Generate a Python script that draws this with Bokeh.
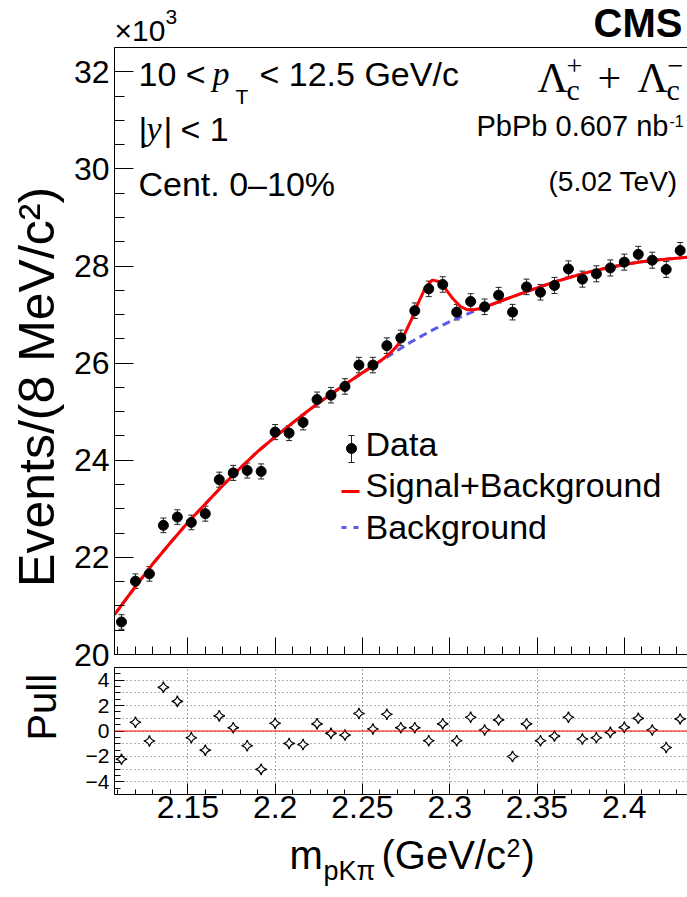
from math import pi
from bokeh.plotting import figure
from bokeh.models import (ColumnDataSource, Whisker, TeeHead, Span, Label,
                          SingleIntervalTicker, FixedTicker, Range1d, LinearAxis,
                          CustomLabelingPolicy)
from bokeh.layouts import column, row
from bokeh.embed import file_html
from bokeh.resources import INLINE

SANS = "Liberation Sans"
SERIF = "Liberation Serif"

# ---------------- data (events in units of 10^3) ----------------
mass = [2.112, 2.120, 2.128, 2.136, 2.144, 2.152, 2.160, 2.168, 2.176, 2.184,
        2.192, 2.200, 2.208, 2.216, 2.224, 2.232, 2.240, 2.248, 2.256, 2.264,
        2.272, 2.280, 2.288, 2.296, 2.304, 2.312, 2.320, 2.328, 2.336, 2.344,
        2.352, 2.360, 2.368, 2.376, 2.384, 2.392, 2.400, 2.408, 2.416, 2.424,
        2.432]
counts = [20.67, 21.51, 21.66, 22.66, 22.83, 22.72, 22.90, 23.60, 23.74, 23.79,
          23.77, 24.58, 24.56, 24.78, 25.25, 25.34, 25.52, 25.96, 25.96, 26.36,
          26.52, 27.08, 27.53, 27.62, 27.05, 27.27, 27.16, 27.40, 27.05, 27.57,
          27.46, 27.60, 27.94, 27.73, 27.84, 27.96, 28.08, 28.24, 28.12, 27.93,
          28.32]
errors = [0.15, 0.15, 0.15, 0.15, 0.15, 0.15, 0.155, 0.155, 0.155, 0.155,
          0.155, 0.155, 0.155, 0.155, 0.155, 0.16, 0.16, 0.16, 0.16, 0.16,
          0.16, 0.16, 0.16, 0.16, 0.16, 0.16, 0.16, 0.16, 0.16, 0.16,
          0.16, 0.165, 0.165, 0.165, 0.165, 0.165, 0.165, 0.165, 0.165, 0.165,
          0.165]
pulls = [-2.22, 0.69, -0.79, 3.44, 2.33, -0.53, -1.51, 1.19, 0.26, -1.16,
         -3.02, 0.61, -0.98, -1.06, 0.56, -0.19, -0.32, 1.38, 0.16, 1.32,
         0.26, 0.26, -0.77, 0.56, -0.77, 1.08, 0.08, 0.87, -2.01, 0.56,
         -0.77, -0.40, 1.08, -0.63, -0.53, -0.11, 0.29, 1.00, 0.08, -1.30,
         0.95]

fit_x = [2.108, 2.12, 2.13, 2.14, 2.15, 2.16, 2.17, 2.18, 2.19, 2.20,
         2.21, 2.22, 2.23, 2.24, 2.25,
         2.258, 2.262, 2.266, 2.270, 2.274, 2.278, 2.282, 2.286, 2.290, 2.294,
         2.298, 2.302, 2.306, 2.310, 2.314, 2.318, 2.322,
         2.33, 2.34, 2.35, 2.36, 2.37, 2.38, 2.39, 2.40, 2.41, 2.42, 2.43, 2.4365]
fit_bkg = [20.82, 21.40, 21.87, 22.30, 22.72, 23.10, 23.48, 23.84, 24.18, 24.48,
           24.77, 25.05, 25.31, 25.56, 25.80,
           25.99, 26.08, 26.17, 26.26, 26.35, 26.44, 26.52, 26.60, 26.68, 26.75,
           26.82, 26.89, 26.95, 27.01, 27.07, 27.12, 27.18,
           27.29, 27.42, 27.55, 27.67, 27.78, 27.88, 27.96, 28.03, 28.09, 28.13, 28.16, 28.18]
fit_total = [20.82, 21.40, 21.87, 22.30, 22.72, 23.10, 23.48, 23.84, 24.18, 24.48,
             24.77, 25.05, 25.31, 25.56, 25.80,
             25.99, 26.09, 26.21, 26.36, 26.59, 26.89, 27.24, 27.55, 27.71, 27.68,
             27.51, 27.32, 27.17, 27.10, 27.10, 27.13, 27.18,
             27.29, 27.42, 27.55, 27.67, 27.78, 27.88, 27.96, 28.03, 28.09, 28.13, 28.16, 28.18]

pull_labels = {-4: "\u22124", -2: "\u22122", 0: "0", 2: "2", 4: "4"}

# ---------------- layout (global pixel geometry) ----------------
X0, X1 = 2.108, 2.4362
Y0, Y1 = 20.0, 32.5
P0, P1 = -5.0, 5.0
W, H = 687, 897
LW = 64                 # width of the column holding the rotated titles
FL, FR = 114, 687       # frame left/right
TT, TB = 47, 654        # top panel frame top/bottom
BT, BB = 667, 794       # pull panel frame top/bottom
TOP_H = BT - TT         # 620
FOOT_T = 832
BOT_H = FOOT_T - BT     # 165
FOOT_H = H - FOOT_T     # 65
BASE_SHIFT = 0.4        # label anchor sits this many em above the drawn baseline


def tx(px):
    return X0 + (px - FL) * (X1 - X0) / (FR - FL)


def ty(py):
    return Y0 + (TB - py) * (Y1 - Y0) / (TB - TT)


def mk_label(x, y, text, size, font=SANS, style="normal", angle=0.0):
    return Label(x=x, y=y, text=text, text_font=font, text_font_size=f"{size}px",
                 text_font_style=style, text_color="black", text_align="left",
                 text_baseline="alphabetic", angle=angle)


def put(fig, conv, px, py, text, size, font=SANS, style="normal"):
    fig.add_layout(mk_label(tx(px), conv(py - BASE_SHIFT * size), text, size, font, style))


def textfig(w, h):
    f = figure(width=w, height=h, x_range=Range1d(0, w), y_range=Range1d(0, h),
               output_backend="svg", toolbar_location=None,
               x_axis_location=None, y_axis_location=None, min_border=0)
    f.grid.visible = False
    f.outline_line_color = None
    return f


def put_px(f, left, top_, h, px, py, text, size, font=SANS, style="normal", vertical=False):
    if vertical:
        f.add_layout(mk_label(px - BASE_SHIFT * size - left, top_ + h - py, text, size,
                              font, style, pi / 2))
    else:
        f.add_layout(mk_label(px - left, top_ + h - (py - BASE_SHIFT * size), text, size,
                              font, style))


def edge_axis():
    return LinearAxis(ticker=FixedTicker(ticks=[]), major_tick_in=0, major_tick_out=0,
                      minor_tick_in=0, minor_tick_out=0, major_label_standoff=0,
                      axis_line_color="black")


no_labels = CustomLabelingPolicy(code="for (const i of indices) indices.unset(i)\nreturn indices")

xr = Range1d(X0, X1)

# ---------------- header ----------------
head = textfig(W, TT)
put_px(head, 0, 0, TT, 114, 42, "\u00d710", 30)
put_px(head, 0, 0, TT, 165, 25, "3", 21)
put_px(head, 0, 0, TT, 593, 38, "CMS", 40, style="bold")

# ---------------- top panel ----------------
top = figure(width=W - LW, height=TOP_H, x_range=xr, y_range=Range1d(Y0, Y1),
             output_backend="svg", toolbar_location=None,
             min_border_left=FL - LW, min_border_right=W - FR,
             min_border_top=0, min_border_bottom=BT - TB)
top.outline_line_color = None
top.xgrid.visible = False
top.ygrid.visible = False

xa = top.xaxis[0]
xa.ticker = SingleIntervalTicker(interval=0.05, num_minor_ticks=5)
xa.major_label_policy = no_labels
xa.major_label_text_font_size = "6px"
xa.major_label_standoff = 0
xa.major_tick_in = 17
xa.major_tick_out = 0
xa.minor_tick_in = 8
xa.minor_tick_out = 0
xa.axis_line_color = "black"

ya = top.yaxis[0]
ya.ticker = SingleIntervalTicker(interval=2, num_minor_ticks=4)
ya.major_label_text_font = SANS
ya.major_label_text_font_size = "32px"
ya.major_label_text_color = "black"
ya.major_label_standoff = 5
ya.major_tick_in = 19
ya.major_tick_out = 0
ya.minor_tick_in = 10
ya.minor_tick_out = 0
ya.axis_line_color = "black"

top.add_layout(edge_axis(), "above")

src = ColumnDataSource(dict(
    x=mass, y=counts,
    lo=[c - e for c, e in zip(counts, errors)],
    hi=[c + e for c, e in zip(counts, errors)]))

top.line(fit_x, fit_bkg, line_color="#5a5aee", line_width=3, line_dash="8 5")
top.line(fit_x, fit_total, line_color="#ff0000", line_width=3)
top.add_layout(Whisker(base="x", lower="lo", upper="hi", source=src,
                       line_color="#222222", line_width=1,
                       upper_head=TeeHead(size=6, line_color="#222222", line_width=1),
                       lower_head=TeeHead(size=6, line_color="#222222", line_width=1)))
top.scatter("x", "y", source=src, size=10, color="black", marker="circle")

# legend (ROOT style)
top.segment(x0=[tx(351)], y0=[ty(435)], x1=[tx(351)], y1=[ty(462)],
            line_color="#222222", line_width=1)
top.segment(x0=[tx(348), tx(348)], y0=[ty(435), ty(462)],
            x1=[tx(354), tx(354)], y1=[ty(435), ty(462)],
            line_color="#222222", line_width=1)
top.scatter([tx(351)], [ty(448)], size=10, color="black")
top.line([tx(341), tx(359)], [ty(491), ty(491)], line_color="#ff0000", line_width=3)
top.line([tx(341), tx(359)], [ty(527), ty(527)], line_color="#5a5aee",
         line_width=3, line_dash="5 7")
put(top, ty, 365, 457, "Data", 34)
put(top, ty, 365, 498, "Signal+Background", 34)
put(top, ty, 365, 540, "Background", 34)

# annotations inside the frame
put(top, ty, 138, 87, "10 < ", 34)
put(top, ty, 212, 87, "p", 34, font=SERIF, style="italic")
put(top, ty, 235, 104, "T", 21)
put(top, ty, 259, 87, "< 12.5 GeV/c", 34)
put(top, ty, 138, 142, "|", 34)
put(top, ty, 146, 142, "y", 34, font=SERIF, style="italic")
put(top, ty, 163, 142, "|", 34)
put(top, ty, 180, 142, "< 1", 34)
put(top, ty, 138, 197, "Cent. 0\u201310%", 34)

put(top, ty, 537, 94, "\u039b", 42, font=SERIF)
put(top, ty, 566, 101, "c", 30, font=SERIF)
put(top, ty, 566, 77, "+", 28, font=SERIF)
put(top, ty, 597, 94, "+", 42, font=SERIF)
put(top, ty, 637, 94, "\u039b", 42, font=SERIF)
put(top, ty, 666, 101, "c", 30, font=SERIF)
put(top, ty, 667, 77, "\u2212", 28, font=SERIF)
put(top, ty, 476, 137, "PbPb 0.607 nb", 29)
put(top, ty, 669, 127, "-1", 16)
put(top, ty, 548, 192, "(5.02 TeV)", 28)

left1 = textfig(LW, TOP_H)
put_px(left1, 0, TT, TOP_H, 56, 598, "Events/(8 MeV/c\u00b2)", 50, vertical=True)

# ---------------- pull panel ----------------
bot = figure(width=W - LW, height=BOT_H, x_range=xr, y_range=Range1d(P0, P1),
             output_backend="svg", toolbar_location=None,
             min_border_left=FL - LW, min_border_right=W - FR,
             min_border_top=0, min_border_bottom=FOOT_T - BB)
bot.outline_line_color = None

bx = bot.xaxis[0]
bx.ticker = SingleIntervalTicker(interval=0.05, num_minor_ticks=5)
bx.major_label_text_font = SANS
bx.major_label_text_font_size = "32px"
bx.major_label_text_color = "black"
bx.major_label_standoff = 1
bx.major_tick_in = 11
bx.major_tick_out = 0
bx.minor_tick_in = 5
bx.minor_tick_out = 0
bx.axis_line_color = "black"

by = bot.yaxis[0]
by.ticker = SingleIntervalTicker(interval=2, num_minor_ticks=4)
by.major_label_overrides = pull_labels
by.major_label_text_font = SANS
by.major_label_text_font_size = "21px"
by.major_label_text_color = "black"
by.major_label_standoff = 5
by.major_tick_in = 10
by.major_tick_out = 0
by.minor_tick_in = 6
by.minor_tick_out = 0
by.axis_line_color = "black"

bot.add_layout(edge_axis(), "above")

bot.xgrid.grid_line_color = "#555555"
bot.xgrid.grid_line_dash = "1 3"
bot.xgrid.grid_line_width = 1
bot.ygrid.ticker = SingleIntervalTicker(interval=1)
bot.ygrid.grid_line_color = "#666666"
bot.ygrid.grid_line_dash = "1 3"
bot.ygrid.grid_line_width = 1

bot.add_layout(Span(location=0, dimension="width", line_color="#ff0000", line_width=1))
bot.scatter(mass, pulls, marker="square_pin", angle=pi / 4, size=8,
            fill_color="white", line_color="black", line_width=1.2)

left2 = textfig(LW, BOT_H)
put_px(left2, 0, BT, BOT_H, 57, 762, "Pull", 40, vertical=True)

# ---------------- footer: x-axis title ----------------
foot = textfig(W, FOOT_H)
put_px(foot, 0, FOOT_T, FOOT_H, 289, 870, "m", 40)
put_px(foot, 0, FOOT_T, FOOT_H, 323, 881, "pK\u03c0", 27)
put_px(foot, 0, FOOT_T, FOOT_H, 381, 870, "(GeV/c", 40)
put_px(foot, 0, FOOT_T, FOOT_H, 506, 857, "2", 25)
put_px(foot, 0, FOOT_T, FOOT_H, 521, 870, ")", 40)

layout = column(head, row(left1, top, spacing=0), row(left2, bot, spacing=0), foot,
                spacing=0)
open("out.html", "w").write(file_html(layout, INLINE))
